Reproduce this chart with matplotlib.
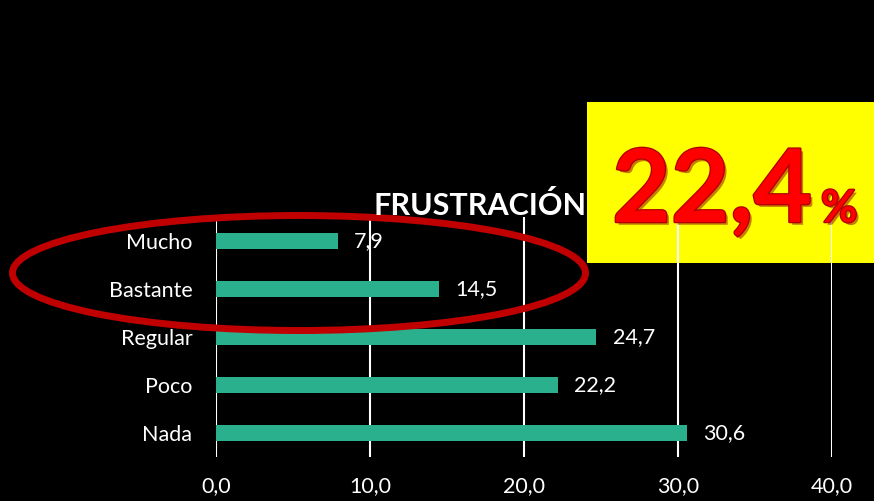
import matplotlib
matplotlib.use("Agg")
import matplotlib.pyplot as plt
from matplotlib.patches import Rectangle, Ellipse
import matplotlib.patheffects as pe

categories = ["Nada", "Poco", "Regular", "Bastante", "Mucho"]
values = [30.6, 22.2, 24.7, 14.5, 7.9]
xticks = [0, 10, 20, 30, 40]
xtick_labels = ["0,0", "10,0", "20,0", "30,0", "40,0"]
title = "FRUSTRACIÓN"
highlight = "22,4"

W, H = 874, 501
fig = plt.figure(figsize=(W / 100, H / 100), dpi=100, facecolor="black")
plt.rcParams["font.family"] = ["Lato", "DejaVu Sans"]

ax = fig.add_axes([216 / W, 1 - 457 / H, (832 - 216) / W, (457 - 217) / H])
ax.set_facecolor("none")
ypos = list(range(len(categories)))
ax.barh(ypos, values, height=0.35, color="#2BB08E", zorder=2)
for y, v in zip(ypos, values):
    ax.text(v + 1.05, y, f"{v:.1f}".replace(".", ","), color="white",
            fontsize=15.5, va="center", ha="left", zorder=3)
ax.set_xlim(0, 40)
ax.set_ylim(-0.5, len(categories) - 0.5)
ax.set_yticks(ypos)
ax.set_yticklabels(categories, color="white", fontsize=15.5)
ax.set_xticks(xticks)
ax.set_xticklabels(xtick_labels, color="white", fontsize=15.5)
ax.tick_params(axis="both", length=0)
ax.tick_params(axis="y", pad=17)
ax.tick_params(axis="x", pad=14)
ax.grid(axis="x", color="white", linewidth=1.5, zorder=1)
ax.set_axisbelow(True)
for s in ax.spines.values():
    s.set_visible(False)

# Title
fig.text(480 / W, 1 - 215 / H, title, color="white", fontsize=22,
         fontweight="bold", ha="center", va="baseline", zorder=5)

# Yellow box
fig.patches.append(Rectangle((587 / W, 1 - 263 / H), (W - 587) / W, (263 - 102) / H,
                             transform=fig.transFigure, facecolor="#FFFF00",
                             edgecolor="none", zorder=-1))
effects = [pe.SimplePatchShadow(offset=(2, -2), shadow_rgbFace="#8B0000", alpha=0.5),
           pe.Stroke(linewidth=1.8, foreground="#B00000"), pe.Normal()]
fig.text(612 / W, 1 - 222 / H, highlight, color="#FF0000", fontsize=73,
         fontweight="bold", ha="left", va="baseline", zorder=6, path_effects=effects)
fig.text(821 / W, 1 - 222 / H, "%", color="#FF0000", fontsize=32,
         fontweight="bold", ha="left", va="baseline", zorder=6, path_effects=effects)

# Red ellipse
fig.patches.append(Ellipse((299 / W, 1 - 273 / H), 573 / W, 115 / H,
                           transform=fig.transFigure, facecolor="none",
                           edgecolor="#C00000", linewidth=5, zorder=4))

fig.savefig("out.png", dpi=100, facecolor="black")
